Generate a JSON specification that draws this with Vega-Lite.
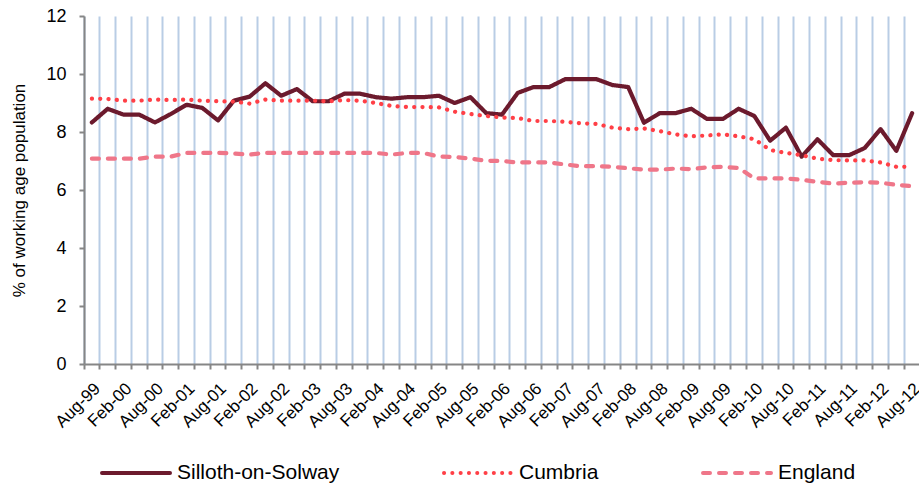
{
  "$schema": "https://vega.github.io/schema/vega-lite/v6.json",
  "width": 836,
  "height": 348,
  "autosize": {"type": "none"},
  "padding": {"left": 84, "top": 16, "right": 0, "bottom": 124},
  "background": "white",
  "config": {
    "view": {"stroke": null},
    "font": "Liberation Sans",
    "axis": {"labelColor": "#000000", "titleColor": "#000000", "titleFontWeight": "normal"}
  },
  "datasets": {
    "rows": [
      {"period": "Aug-99", "area": "Silloth-on-Solway", "value": 8.33},
      {"period": "Nov-99", "area": "Silloth-on-Solway", "value": 8.8},
      {"period": "Feb-00", "area": "Silloth-on-Solway", "value": 8.6},
      {"period": "May-00", "area": "Silloth-on-Solway", "value": 8.6},
      {"period": "Aug-00", "area": "Silloth-on-Solway", "value": 8.33},
      {"period": "Nov-00", "area": "Silloth-on-Solway", "value": 8.62},
      {"period": "Feb-01", "area": "Silloth-on-Solway", "value": 8.94},
      {"period": "May-01", "area": "Silloth-on-Solway", "value": 8.83},
      {"period": "Aug-01", "area": "Silloth-on-Solway", "value": 8.4},
      {"period": "Nov-01", "area": "Silloth-on-Solway", "value": 9.08},
      {"period": "Feb-02", "area": "Silloth-on-Solway", "value": 9.22},
      {"period": "May-02", "area": "Silloth-on-Solway", "value": 9.68},
      {"period": "Aug-02", "area": "Silloth-on-Solway", "value": 9.25},
      {"period": "Nov-02", "area": "Silloth-on-Solway", "value": 9.48},
      {"period": "Feb-03", "area": "Silloth-on-Solway", "value": 9.06},
      {"period": "May-03", "area": "Silloth-on-Solway", "value": 9.06},
      {"period": "Aug-03", "area": "Silloth-on-Solway", "value": 9.32},
      {"period": "Nov-03", "area": "Silloth-on-Solway", "value": 9.32},
      {"period": "Feb-04", "area": "Silloth-on-Solway", "value": 9.2},
      {"period": "May-04", "area": "Silloth-on-Solway", "value": 9.15},
      {"period": "Aug-04", "area": "Silloth-on-Solway", "value": 9.2},
      {"period": "Nov-04", "area": "Silloth-on-Solway", "value": 9.2},
      {"period": "Feb-05", "area": "Silloth-on-Solway", "value": 9.25},
      {"period": "May-05", "area": "Silloth-on-Solway", "value": 9.0},
      {"period": "Aug-05", "area": "Silloth-on-Solway", "value": 9.2},
      {"period": "Nov-05", "area": "Silloth-on-Solway", "value": 8.65},
      {"period": "Feb-06", "area": "Silloth-on-Solway", "value": 8.6},
      {"period": "May-06", "area": "Silloth-on-Solway", "value": 9.35},
      {"period": "Aug-06", "area": "Silloth-on-Solway", "value": 9.55},
      {"period": "Nov-06", "area": "Silloth-on-Solway", "value": 9.55},
      {"period": "Feb-07", "area": "Silloth-on-Solway", "value": 9.82},
      {"period": "May-07", "area": "Silloth-on-Solway", "value": 9.82},
      {"period": "Aug-07", "area": "Silloth-on-Solway", "value": 9.82},
      {"period": "Nov-07", "area": "Silloth-on-Solway", "value": 9.62},
      {"period": "Feb-08", "area": "Silloth-on-Solway", "value": 9.55},
      {"period": "May-08", "area": "Silloth-on-Solway", "value": 8.32},
      {"period": "Aug-08", "area": "Silloth-on-Solway", "value": 8.65},
      {"period": "Nov-08", "area": "Silloth-on-Solway", "value": 8.65},
      {"period": "Feb-09", "area": "Silloth-on-Solway", "value": 8.8},
      {"period": "May-09", "area": "Silloth-on-Solway", "value": 8.45},
      {"period": "Aug-09", "area": "Silloth-on-Solway", "value": 8.45},
      {"period": "Nov-09", "area": "Silloth-on-Solway", "value": 8.8},
      {"period": "Feb-10", "area": "Silloth-on-Solway", "value": 8.55},
      {"period": "May-10", "area": "Silloth-on-Solway", "value": 7.7},
      {"period": "Aug-10", "area": "Silloth-on-Solway", "value": 8.15},
      {"period": "Nov-10", "area": "Silloth-on-Solway", "value": 7.15},
      {"period": "Feb-11", "area": "Silloth-on-Solway", "value": 7.75},
      {"period": "May-11", "area": "Silloth-on-Solway", "value": 7.2},
      {"period": "Aug-11", "area": "Silloth-on-Solway", "value": 7.2},
      {"period": "Nov-11", "area": "Silloth-on-Solway", "value": 7.45},
      {"period": "Feb-12", "area": "Silloth-on-Solway", "value": 8.1},
      {"period": "May-12", "area": "Silloth-on-Solway", "value": 7.35},
      {"period": "Aug-12", "area": "Silloth-on-Solway", "value": 8.65},
      {"period": "Aug-99", "area": "Cumbria", "value": 9.15},
      {"period": "Nov-99", "area": "Cumbria", "value": 9.14},
      {"period": "Feb-00", "area": "Cumbria", "value": 9.08},
      {"period": "May-00", "area": "Cumbria", "value": 9.08},
      {"period": "Aug-00", "area": "Cumbria", "value": 9.12},
      {"period": "Nov-00", "area": "Cumbria", "value": 9.1},
      {"period": "Feb-01", "area": "Cumbria", "value": 9.12},
      {"period": "May-01", "area": "Cumbria", "value": 9.08},
      {"period": "Aug-01", "area": "Cumbria", "value": 9.06},
      {"period": "Nov-01", "area": "Cumbria", "value": 9.05},
      {"period": "Feb-02", "area": "Cumbria", "value": 8.98},
      {"period": "May-02", "area": "Cumbria", "value": 9.12},
      {"period": "Aug-02", "area": "Cumbria", "value": 9.08},
      {"period": "Nov-02", "area": "Cumbria", "value": 9.08},
      {"period": "Feb-03", "area": "Cumbria", "value": 9.08},
      {"period": "May-03", "area": "Cumbria", "value": 9.06},
      {"period": "Aug-03", "area": "Cumbria", "value": 9.1},
      {"period": "Nov-03", "area": "Cumbria", "value": 9.08},
      {"period": "Feb-04", "area": "Cumbria", "value": 9.0},
      {"period": "May-04", "area": "Cumbria", "value": 8.9},
      {"period": "Aug-04", "area": "Cumbria", "value": 8.86},
      {"period": "Nov-04", "area": "Cumbria", "value": 8.86},
      {"period": "Feb-05", "area": "Cumbria", "value": 8.85},
      {"period": "May-05", "area": "Cumbria", "value": 8.7},
      {"period": "Aug-05", "area": "Cumbria", "value": 8.62},
      {"period": "Nov-05", "area": "Cumbria", "value": 8.55},
      {"period": "Feb-06", "area": "Cumbria", "value": 8.5},
      {"period": "May-06", "area": "Cumbria", "value": 8.48},
      {"period": "Aug-06", "area": "Cumbria", "value": 8.38},
      {"period": "Nov-06", "area": "Cumbria", "value": 8.38},
      {"period": "Feb-07", "area": "Cumbria", "value": 8.35},
      {"period": "May-07", "area": "Cumbria", "value": 8.3},
      {"period": "Aug-07", "area": "Cumbria", "value": 8.28},
      {"period": "Nov-07", "area": "Cumbria", "value": 8.15},
      {"period": "Feb-08", "area": "Cumbria", "value": 8.1},
      {"period": "May-08", "area": "Cumbria", "value": 8.12},
      {"period": "Aug-08", "area": "Cumbria", "value": 8.03},
      {"period": "Nov-08", "area": "Cumbria", "value": 7.92},
      {"period": "Feb-09", "area": "Cumbria", "value": 7.85},
      {"period": "May-09", "area": "Cumbria", "value": 7.88},
      {"period": "Aug-09", "area": "Cumbria", "value": 7.92},
      {"period": "Nov-09", "area": "Cumbria", "value": 7.85},
      {"period": "Feb-10", "area": "Cumbria", "value": 7.75},
      {"period": "May-10", "area": "Cumbria", "value": 7.38},
      {"period": "Aug-10", "area": "Cumbria", "value": 7.28},
      {"period": "Nov-10", "area": "Cumbria", "value": 7.2},
      {"period": "Feb-11", "area": "Cumbria", "value": 7.08},
      {"period": "May-11", "area": "Cumbria", "value": 7.03},
      {"period": "Aug-11", "area": "Cumbria", "value": 7.02},
      {"period": "Nov-11", "area": "Cumbria", "value": 7.02},
      {"period": "Feb-12", "area": "Cumbria", "value": 6.95},
      {"period": "May-12", "area": "Cumbria", "value": 6.8},
      {"period": "Aug-12", "area": "Cumbria", "value": 6.8},
      {"period": "Aug-99", "area": "England", "value": 7.08},
      {"period": "Nov-99", "area": "England", "value": 7.08},
      {"period": "Feb-00", "area": "England", "value": 7.08},
      {"period": "May-00", "area": "England", "value": 7.08},
      {"period": "Aug-00", "area": "England", "value": 7.15},
      {"period": "Nov-00", "area": "England", "value": 7.15},
      {"period": "Feb-01", "area": "England", "value": 7.28},
      {"period": "May-01", "area": "England", "value": 7.28},
      {"period": "Aug-01", "area": "England", "value": 7.28},
      {"period": "Nov-01", "area": "England", "value": 7.26},
      {"period": "Feb-02", "area": "England", "value": 7.22},
      {"period": "May-02", "area": "England", "value": 7.28},
      {"period": "Aug-02", "area": "England", "value": 7.28},
      {"period": "Nov-02", "area": "England", "value": 7.28},
      {"period": "Feb-03", "area": "England", "value": 7.28},
      {"period": "May-03", "area": "England", "value": 7.28},
      {"period": "Aug-03", "area": "England", "value": 7.28},
      {"period": "Nov-03", "area": "England", "value": 7.28},
      {"period": "Feb-04", "area": "England", "value": 7.28},
      {"period": "May-04", "area": "England", "value": 7.22},
      {"period": "Aug-04", "area": "England", "value": 7.28},
      {"period": "Nov-04", "area": "England", "value": 7.28},
      {"period": "Feb-05", "area": "England", "value": 7.15},
      {"period": "May-05", "area": "England", "value": 7.14},
      {"period": "Aug-05", "area": "England", "value": 7.08},
      {"period": "Nov-05", "area": "England", "value": 7.01},
      {"period": "Feb-06", "area": "England", "value": 7.0},
      {"period": "May-06", "area": "England", "value": 6.95},
      {"period": "Aug-06", "area": "England", "value": 6.95},
      {"period": "Nov-06", "area": "England", "value": 6.95},
      {"period": "Feb-07", "area": "England", "value": 6.88},
      {"period": "May-07", "area": "England", "value": 6.82},
      {"period": "Aug-07", "area": "England", "value": 6.82},
      {"period": "Nov-07", "area": "England", "value": 6.8},
      {"period": "Feb-08", "area": "England", "value": 6.75},
      {"period": "May-08", "area": "England", "value": 6.7},
      {"period": "Aug-08", "area": "England", "value": 6.7},
      {"period": "Nov-08", "area": "England", "value": 6.74},
      {"period": "Feb-09", "area": "England", "value": 6.72},
      {"period": "May-09", "area": "England", "value": 6.78},
      {"period": "Aug-09", "area": "England", "value": 6.8},
      {"period": "Nov-09", "area": "England", "value": 6.76},
      {"period": "Feb-10", "area": "England", "value": 6.4},
      {"period": "May-10", "area": "England", "value": 6.4},
      {"period": "Aug-10", "area": "England", "value": 6.4},
      {"period": "Nov-10", "area": "England", "value": 6.35},
      {"period": "Feb-11", "area": "England", "value": 6.28},
      {"period": "May-11", "area": "England", "value": 6.22},
      {"period": "Aug-11", "area": "England", "value": 6.25},
      {"period": "Nov-11", "area": "England", "value": 6.27},
      {"period": "Feb-12", "area": "England", "value": 6.25},
      {"period": "May-12", "area": "England", "value": 6.18},
      {"period": "Aug-12", "area": "England", "value": 6.13}
    ]
  },
  "data": {"name": "rows"},
  "mark": {"type": "line", "strokeWidth": 4.2, "strokeCap": "round", "strokeJoin": "round"},
  "encoding": {
    "x": {
      "field": "period",
      "type": "ordinal",
      "sort": null,
      "scale": {"type": "band", "paddingInner": 0, "paddingOuter": 0},
      "axis": {
        "title": null,
        "bandPosition": 0,
        "grid": true,
        "gridColor": "#B9CDE5",
        "gridWidth": 2,
        "domainColor": "#868686",
        "domainWidth": 2,
        "tickColor": "#868686",
        "tickWidth": 2,
        "tickSize": 5,
        "labelAngle": -45,
        "labelAlign": "right",
        "labelBaseline": "top",
        "labelFontSize": 17,
        "labelPadding": 11,
        "labelOverlap": false,
        "labelExpr": "indexof(datum.value, 'Nov') == 0 || indexof(datum.value, 'May') == 0 ? '' : datum.value"
      }
    },
    "y": {
      "field": "value",
      "type": "quantitative",
      "scale": {"domain": [0, 12], "nice": false},
      "axis": {
        "title": "% of working age population",
        "titleFontSize": 17,
        "titlePadding": 17,
        "values": [0, 2, 4, 6, 8, 10, 12],
        "grid": false,
        "domainColor": "#868686",
        "domainWidth": 2,
        "tickColor": "#868686",
        "tickWidth": 2,
        "tickSize": 5,
        "labelFontSize": 18,
        "labelPadding": 13
      }
    },
    "color": {
      "field": "area",
      "type": "nominal",
      "scale": {"domain": ["Silloth-on-Solway", "Cumbria", "England"], "range": ["#6C1A2D", "#FF3F46", "#EF7689"]},
      "legend": {
        "title": null,
        "orient": "none",
        "direction": "horizontal",
        "columns": 3,
        "legendX": 16,
        "legendY": 421,
        "symbolType": "stroke",
        "symbolSize": 4624,
        "symbolStrokeWidth": 4,
        "labelFontSize": 21,
        "labelColor": "#000000",
        "labelOffset": 5,
        "columnPadding": 96,
        "labelLimit": 400,
        "encode": {"symbols": {"update": {"strokeCap": {"value": "round"}}}}
      }
    },
    "strokeDash": {
      "field": "area",
      "type": "nominal",
      "scale": {"domain": ["Silloth-on-Solway", "Cumbria", "England"], "range": [[1, 0], [0.1, 8.2], [7, 9]]}
    }
  }
}
